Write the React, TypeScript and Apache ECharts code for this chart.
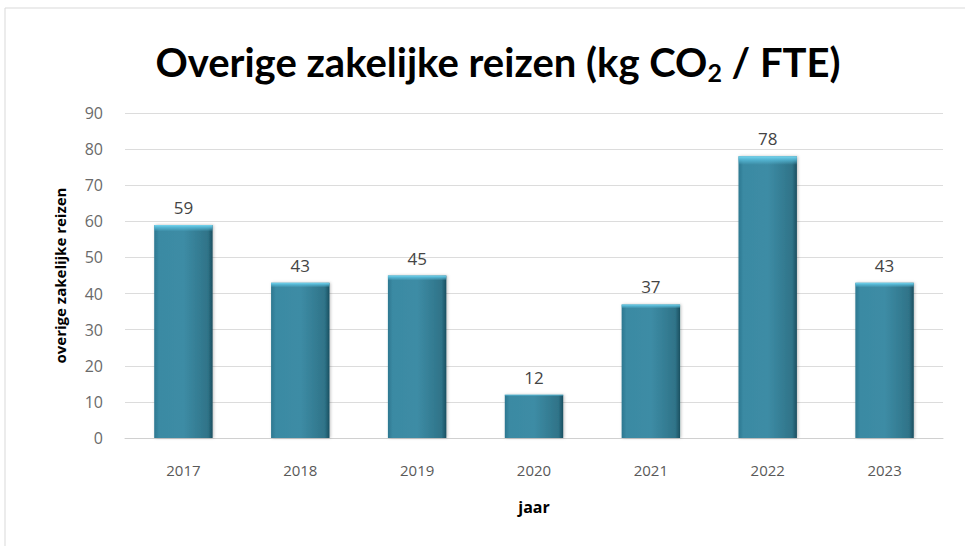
import React, { useEffect, useRef } from "react";
import * as echarts from "echarts";

const years = ["2017", "2018", "2019", "2020", "2021", "2022", "2023"];
const values = [59, 43, 45, 12, 37, 78, 43];
const yTicks = { min: 0, max: 90, interval: 10 };

export default function App() {
  const ref = useRef<HTMLDivElement>(null);
  useEffect(() => {
    const chart = echarts.init(ref.current!, null, { renderer: "svg" });
    chart.setOption({
      animation: false,
      backgroundColor: "#ffffff",
      title: {
        text: "Overige zakelijke reizen (kg CO{sub|2} / FTE)",
        left: 493,
        textAlign: "center",
        top: 34,
        textStyle: {
          fontFamily: "Lato",
          fontSize: 40,
          fontWeight: "bold",
          color: "#000",
          rich: {
            sub: { fontFamily: "Lato", fontSize: 25, fontWeight: "bold", color: "#000", verticalAlign: "bottom", padding: [20, 0, 0, 0] },
          },
        },
      },
      graphic: [
        {
          type: "polyline",
          shape: { points: [[5, 546], [5, 8], [965, 8]] },
          style: { stroke: "#d9d9d9", lineWidth: 1, fill: null },
          silent: true,
        },
      ],
      grid: { left: 125, right: 22, top: 113, bottom: 108, containLabel: false },
      xAxis: {
        type: "category",
        data: years,
        name: "jaar",
        nameLocation: "middle",
        nameGap: 61,
        nameTextStyle: { fontFamily: "Open Sans", fontWeight: "bold", fontSize: 16, color: "#000" },
        axisLine: { lineStyle: { color: "#d0d0d0" } },
        axisTick: { show: false },
        axisLabel: { fontFamily: "Open Sans", fontSize: 15, color: "#595959", margin: 24 },
      },
      yAxis: {
        type: "value",
        min: yTicks.min,
        max: yTicks.max,
        interval: yTicks.interval,
        name: "overige zakelijke reizen",
        nameLocation: "middle",
        nameGap: 58,
        nameTextStyle: { fontFamily: "Open Sans", fontWeight: "bold", fontSize: 15, color: "#000" },
        axisLine: { show: false },
        axisTick: { show: false },
        axisLabel: { fontFamily: "Open Sans", fontSize: 16, color: "#6a6a6a", margin: 22 },
        splitLine: { lineStyle: { color: "#dcdcdc" } },
      },
      series: [
        {
          type: "bar",
          data: values,
          barWidth: "50%",
          itemStyle: {
            color: new echarts.graphic.LinearGradient(0, 0, 1, 0, [
              { offset: 0, color: "#2d7790" },
              { offset: 0.08, color: "#3a8aa3" },
              { offset: 0.5, color: "#3d8ca5" },
              { offset: 0.92, color: "#2f7388" },
              { offset: 1, color: "#1b4f60" },
            ]),
            shadowColor: "rgba(0,0,0,0.25)",
            shadowBlur: 3,
            shadowOffsetX: 1,
          },
          label: {
            show: true,
            position: "top",
            distance: 9,
            fontFamily: "Open Sans",
            fontSize: 17,
            color: "#444",
          },
        },
        {
          type: "bar",
          data: values,
          barWidth: "50%",
          barGap: "-100%",
          silent: true,
          itemStyle: {
            color: new echarts.graphic.LinearGradient(0, 0, 0, 1, [
              { offset: 0, color: "rgba(120,215,240,1)" },
              { offset: 0.012, color: "rgba(90,190,220,0.8)" },
              { offset: 0.03, color: "rgba(90,190,220,0)" },
              { offset: 1, color: "rgba(90,190,220,0)" },
            ]),
          },
        },
      ],
    });
    return () => chart.dispose();
  }, []);
  return <div ref={ref} style={{ width: 965, height: 546, position: "absolute", left: 0, top: 0 }} />;
}
